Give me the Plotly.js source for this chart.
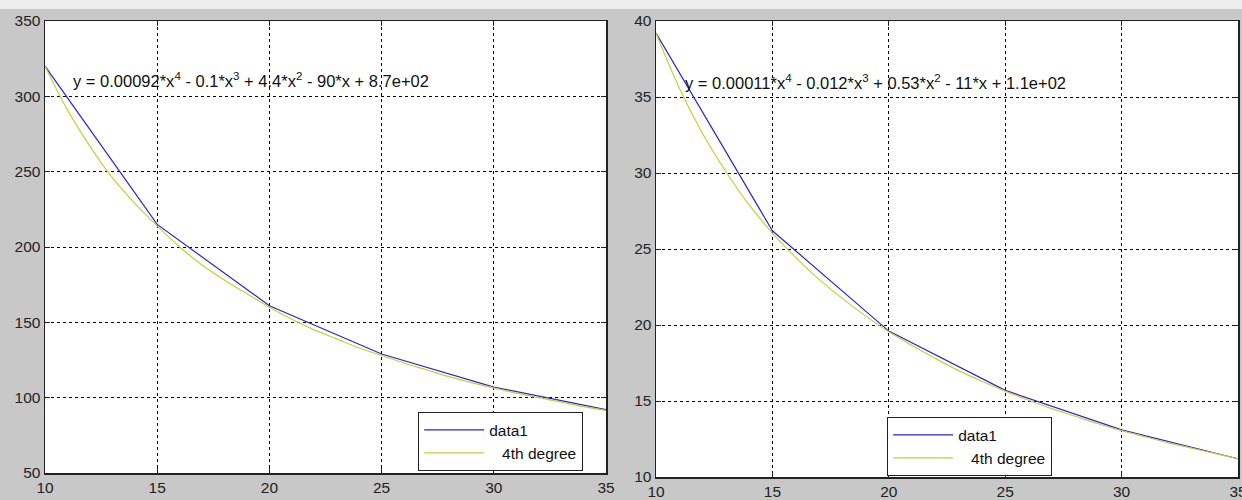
<!DOCTYPE html>
<html>
<head>
<meta charset="utf-8">
<script src="https://cdn.plot.ly/plotly-3.0.1.min.js"></script>
<style>html,body{margin:0;padding:0;background:#c8c8c8;}#chart{width:1242px;height:500px;}</style>
</head>
<body>
<div id="chart"></div>
<script>
// Left panel
var xData = [10, 15, 20, 25, 30, 35];
var leftData1 = [320, 215, 161, 129, 107, 92];
var xFit = [10, 11, 12, 13, 14, 15, 16, 17, 18, 19, 20, 21, 22, 23, 24, 25, 26, 27, 28, 29, 30, 31, 32, 33, 34, 35];
var leftFit = [320, 291, 267, 246, 229, 214, 200, 188, 178, 169, 160, 152, 145, 139, 133, 128, 123, 118.5, 114, 110, 106.5, 103, 100, 97, 94, 91.5];
var leftEquation = "y = 0.00092*x<sup>4</sup> - 0.1*x<sup>3</sup> + 4.4*x<sup>2</sup> - 90*x + 8.7e+02";
// Right panel
var rightData1 = [39.2, 26.2, 19.6, 15.7, 13.1, 11.2];
var rightFit = [39.2, 35.6, 32.6, 30.1, 27.9, 26.05, 24.45, 23.0, 21.75, 20.6, 19.55, 18.65, 17.8, 17.0, 16.3, 15.65, 15.05, 14.5, 14.0, 13.5, 13.05, 12.65, 12.25, 11.9, 11.55, 11.2];
var rightEquation = "y = 0.00011*x<sup>4</sup> - 0.012*x<sup>3</sup> + 0.53*x<sup>2</sup> - 11*x + 1.1e+02";
var xTicks = [10, 15, 20, 25, 30, 35];
var leftYTicks = [50, 100, 150, 200, 250, 300, 350];
var rightYTicks = [10, 15, 20, 25, 30, 35, 40];
var seriesNames = ["data1", "\u00a0\u00a0\u00a04th degree"];

var W = 1242, H = 500;
function fx(p){return p / W;}
function fy(p){return 1 - p / H;}

var blue = "#2626d9", yellow = "#cccc33";
var traces = [
  {x: xData, y: leftData1, type: "scatter", mode: "lines", name: seriesNames[0], line: {color: blue, width: 1.2}, xaxis: "x", yaxis: "y", legend: "legend"},
  {x: xFit, y: leftFit, type: "scatter", mode: "lines", name: seriesNames[1], line: {color: yellow, width: 1.2, shape: "spline"}, xaxis: "x", yaxis: "y", legend: "legend"},
  {x: xData, y: rightData1, type: "scatter", mode: "lines", name: seriesNames[0], line: {color: blue, width: 1.2}, xaxis: "x2", yaxis: "y2", legend: "legend2"},
  {x: xFit, y: rightFit, type: "scatter", mode: "lines", name: seriesNames[1], line: {color: yellow, width: 1.2, shape: "spline"}, xaxis: "x2", yaxis: "y2", legend: "legend2"}
];

var tickFont = {family: "Liberation Sans, Arial, sans-serif", size: 15.5, color: "#222"};
function axisX(domain, anchor){
  return {domain: domain, anchor: anchor, range: [10, 35], tickvals: xTicks, ticktext: xTicks.map(String),
    showgrid: true, gridcolor: "#000", griddash: "3px,3px", gridwidth: 1,
    showline: true, linecolor: "#222", linewidth: 1.5, mirror: "ticks", ticks: "inside", ticklen: 5, tickcolor: "#222",
    zeroline: false, tickfont: tickFont, fixedrange: true, ticklabeloverflow: "allow"};
}
function axisY(domain, anchor, range, vals){
  return {domain: domain, anchor: anchor, range: range, tickvals: vals, ticktext: vals.map(String),
    showgrid: true, gridcolor: "#000", griddash: "3px,3px", gridwidth: 1,
    showline: true, linecolor: "#222", linewidth: 1.5, mirror: "ticks", ticks: "inside", ticklen: 5, tickcolor: "#222",
    zeroline: false, tickfont: tickFont, fixedrange: true, ticklabeloverflow: "allow"};
}

var legendBase = {bgcolor: "#fff", bordercolor: "#222", borderwidth: 1.2,
  font: {family: "Liberation Sans, Arial, sans-serif", size: 15.5, color: "#111"},
  xanchor: "left", yanchor: "top", tracegroupgap: 0, itemwidth: 60};

var eqFont = {family: "Liberation Sans, Arial, sans-serif", size: 16.5, color: "#111"};
var layout = {
  width: W, height: H,
  margin: {l: 0, r: 0, t: 0, b: 0},
  paper_bgcolor: "#c8c8c8", plot_bgcolor: "#fff",
  showlegend: true,
  xaxis: axisX([fx(45), fx(606)], "y"),
  yaxis: axisY([fy(473), fy(21)], "x", [50, 350], leftYTicks),
  xaxis2: axisX([fx(656), fx(1238)], "y2"),
  yaxis2: axisY([fy(477), fy(21)], "x2", [10, 40], rightYTicks),
  legend: Object.assign({}, legendBase, {x: fx(418), y: fy(412)}),
  legend2: Object.assign({}, legendBase, {x: fx(887), y: fy(417)}),
  annotations: [
    {xref: "paper", yref: "paper", x: fx(71), y: fy(80), xanchor: "left", yanchor: "middle", showarrow: false,
     text: leftEquation, font: eqFont},
    {xref: "paper", yref: "paper", x: fx(683), y: fy(82), xanchor: "left", yanchor: "middle", showarrow: false,
     text: rightEquation, font: eqFont}
  ],
  shapes: [
    {type: "rect", xref: "paper", yref: "paper", x0: 0, x1: 1, y0: fy(9), y1: 1, fillcolor: "#eeeeee", line: {width: 0}, layer: "below"}
  ]
};

Plotly.newPlot("chart", traces, layout, {displayModeBar: false, staticPlot: true});
</script>
</body>
</html>
